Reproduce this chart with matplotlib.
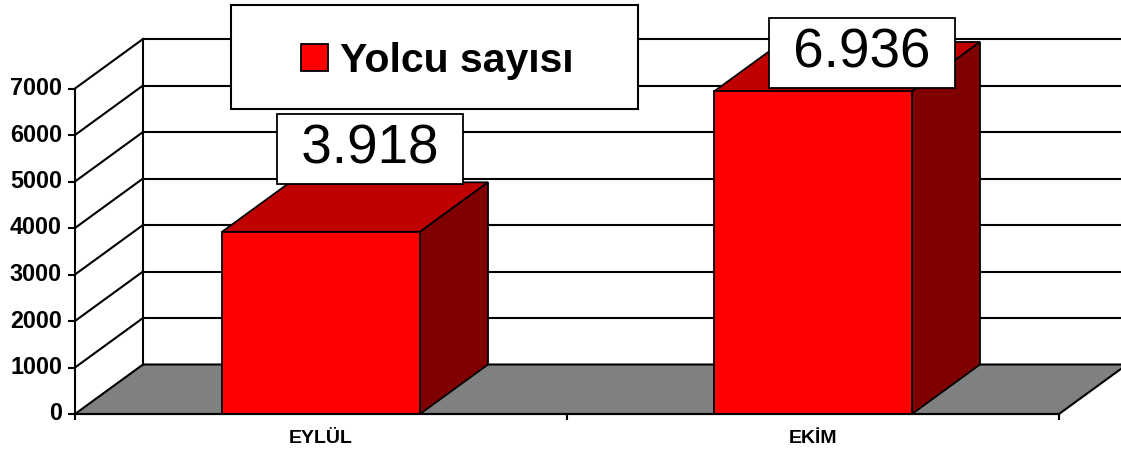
import numpy as np
import matplotlib.pyplot as plt
from matplotlib.patches import Rectangle, Polygon, Patch
from matplotlib.transforms import offset_copy

# veriler
aylar = ['EYLÜL', 'EKİM']
yolcu = [3918, 6936]
seri_adi = 'Yolcu sayısı'
y_ticks = [0, 1000, 2000, 3000, 4000, 5000, 6000, 7000]

plt.rcParams['font.family'] = ['Liberation Sans', 'DejaVu Sans']

W, H = 1121, 450
fig = plt.figure(figsize=(W / 100, H / 100), dpi=100)
ax = fig.add_axes([0, 0, 1, 1])
ax.set_axis_off()

# olcek: piksel / kategori ve piksel / deger (sahte 3d icin)
px_cat = 492.0
px_val = 46.5 / 1000
x0_px, y0_px = 75, 414
ax.set_xlim(-0.5 - x0_px / px_cat, -0.5 + (W - x0_px) / px_cat)
ax.set_ylim(-(H - y0_px) / px_val, y0_px / px_val)

# derinlik
dx = 68 / px_cat
dy = 49.5 / px_val
ymax = y_ticks[-1]
xl, xr = -0.5, len(aylar) - 0.5
lw = 1.5

# zemin (gri)
ax.add_patch(Polygon([(xl, 0), (xr, 0), (xr + dx, dy), (xl + dx, dy)],
                     closed=True, fc='#808080', ec='black', lw=lw, zorder=1))

# sol duvar ve arka duvar cizgileri
ax.plot([xl, xl], [0, ymax], color='black', lw=lw, zorder=2)
ax.plot([xl + dx, xl + dx], [dy, ymax + dy], color='black', lw=lw, zorder=2)
for t in y_ticks[1:]:
    ax.plot([xl + dx, xr + dx], [t + dy, t + dy], color='black', lw=lw, zorder=2)
    ax.plot([xl, xl + dx], [t, t + dy], color='black', lw=lw, zorder=2)

# cubuklar
x = np.arange(len(aylar))
bw = 198 / px_cat
ax.bar(x, yolcu, width=bw, color='#FF0000', edgecolor='black', lw=1.3, zorder=4)
for xi, v in zip(x, yolcu):
    a, b = xi - bw / 2, xi + bw / 2
    ax.add_patch(Polygon([(a, v), (b, v), (b + dx, v + dy), (a + dx, v + dy)],
                         closed=True, fc='#C00000', ec='black', lw=1.3, zorder=3))
    ax.add_patch(Polygon([(b, 0), (b + dx, dy), (b + dx, v + dy), (b, v)],
                         closed=True, fc='#800000', ec='black', lw=1.3, zorder=3))

# deger etiketleri
for xi, v in zip(x, yolcu):
    ly = min(v + dy + 716, 7760)
    etiket = ' ' + f'{v:,}'.replace(',', '.') + ' '
    ax.text(xi + 0.1, ly, etiket, fontsize=39.5, ha='center', va='center',
            bbox=dict(boxstyle='square,pad=0.17', fc='white', ec='black', lw=1.3),
            zorder=6)

# on taban cizgisi ve isaretler
ax.plot([xl, xr], [0, 0], color='black', lw=lw, zorder=5)
ax.plot([xl] * len(y_ticks), y_ticks, ls='none', marker=0, ms=5, mew=lw,
        color='black', zorder=5)
ax.plot(np.arange(len(aylar) + 1) - 0.5, [0] * (len(aylar) + 1), ls='none',
        marker=3, ms=4.5, mew=lw, color='black', zorder=5)

# eksen yazilari
tr_y = offset_copy(ax.transData, fig=fig, x=-13, y=0, units='dots')
for t in y_ticks:
    ax.text(xl, t, str(t), transform=tr_y, ha='right', va='center',
            fontsize=16.8, fontweight='bold')
tr_x = offset_copy(ax.transData, fig=fig, x=0, y=-29, units='dots')
for xi, ad in zip(x, aylar):
    ax.text(xi, 0, ad, transform=tr_x, ha='center', va='baseline',
            fontsize=14, fontweight='bold')

# lejant
ax.add_patch(Rectangle((231 / W, 1 - 109 / H), 407 / W, 104 / H,
                       transform=ax.transAxes, fc='white', ec='black', lw=lw, zorder=7))
leg = ax.legend(handles=[Patch(fc='#FF0000', ec='black', lw=1.3)], labels=[seri_adi],
                loc='center', bbox_to_anchor=(437 / W, 1 - 61 / H), frameon=False,
                prop=dict(weight='bold', size=29.5), handlelength=0.66,
                handleheight=0.66, handletextpad=0.3, borderpad=0, borderaxespad=0)
leg.set_zorder(8)

fig.savefig('out.png', dpi=100)
